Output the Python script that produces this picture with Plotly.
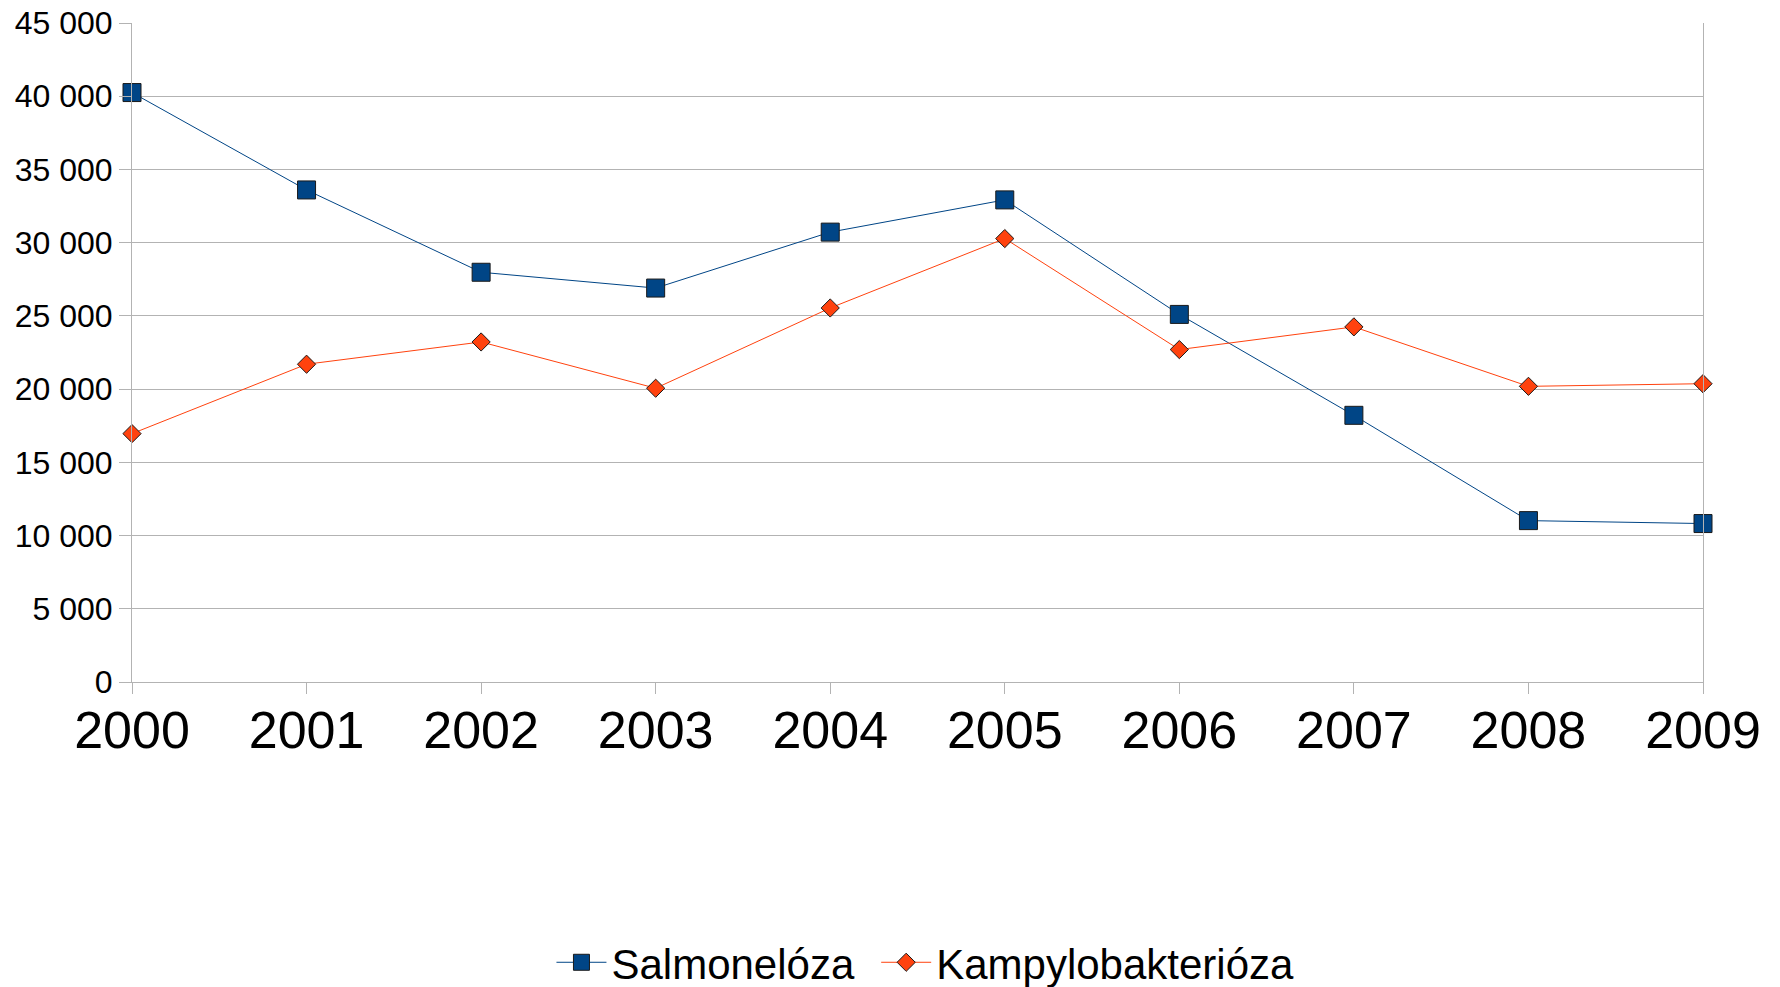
import plotly.graph_objects as go

years = [2000, 2001, 2002, 2003, 2004, 2005, 2006, 2007, 2008, 2009]
salmoneloza = [40250, 33600, 27980, 26900, 30720, 32920, 25100, 18210, 11020, 10820]
kampylobakterioza = [16960, 21700, 23220, 20060, 25540, 30280, 22700, 24250, 20190, 20370]
y_ticks = [0, 5000, 10000, 15000, 20000, 25000, 30000, 35000, 40000, 45000]

fig = go.Figure()
fig.add_trace(go.Scatter(
    x=years, y=salmoneloza, name="Salmonelóza", mode="lines+markers",
    line=dict(color="#004586", width=1),
    marker=dict(symbol="square", size=18, color="#004586", line=dict(color="#1a1a1a", width=1)),
    cliponaxis=False, legend="legend",
))
fig.add_trace(go.Scatter(
    x=years, y=kampylobakterioza, name="Kampylobakterióza", mode="lines+markers",
    line=dict(color="#ff420e", width=1),
    marker=dict(symbol="diamond", size=14, color="#ff420e", line=dict(color="#1a1a1a", width=1)),
    cliponaxis=False, legend="legend2",
))

leg_common = dict(orientation="h", y=-0.4256, yanchor="middle",
                  font=dict(size=42), itemwidth=50, bgcolor="rgba(0,0,0,0)")
fig.update_layout(
    width=1780, height=987,
    margin=dict(l=132, r=77, t=23, b=305, autoexpand=False),
    paper_bgcolor="white", plot_bgcolor="white",
    font=dict(family="Liberation Sans, Arial, sans-serif", color="black"),
    separators=", ",
    showlegend=True,
    legend=dict(x=0.2670, xanchor="left", **leg_common),
    legend2=dict(x=0.4737, xanchor="left", **leg_common),
)
fig.update_xaxes(
    range=[2000, 2009], tickvals=years, ticktext=[str(y) for y in years],
    tickfont=dict(size=52), ticks="outside", ticklen=11, tickcolor="#b3b3b3",
    ticklabelstandoff=-8,
    showgrid=False, showline=True, linecolor="#b3b3b3", linewidth=1,
    mirror=False, zeroline=False, automargin=False, ticklabeloverflow="allow",
)
fig.update_yaxes(
    range=[0, 45000], tickvals=y_ticks, tickformat=",d",
    tickfont=dict(size=32), ticks="outside", ticklen=12, tickcolor="#b3b3b3",
    showgrid=True, gridcolor="#b3b3b3", gridwidth=1,
    showline=True, linecolor="#b3b3b3", linewidth=1, mirror=True, zeroline=False,
    automargin=False, ticklabeloverflow="allow",
)

fig.write_html("out.html", config={"displayModeBar": False},
               post_script="document.body.style.margin='0';document.body.style.overflow='hidden';")
